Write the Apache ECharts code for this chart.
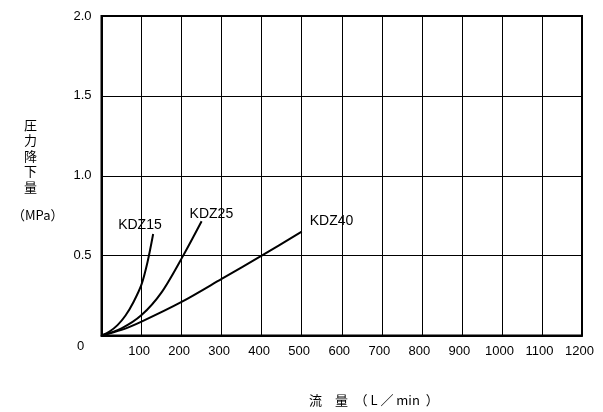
<!DOCTYPE html>
<html>
<head>
<meta charset="utf-8">
<script src="https://cdn.jsdelivr.net/npm/echarts@6/dist/echarts.min.js"></script>
<style>
html,body{margin:0;padding:0;background:#fff;}
#main{width:603px;height:412px;}
</style>
</head>
<body>
<div id="main"></div>
<script>
// flow (L/min) vs pressure drop (MPa)
var kdz15=[[0,0],[20,0.025],[40,0.065],[60,0.125],[80,0.21],[100,0.32],[115,0.46],[129,0.635]];
var kdz25=[[0,0],[50,0.045],[100,0.128],[150,0.27],[204,0.5],[250,0.715]];
var kdz40=[[0,0],[50,0.035],[100,0.087],[200,0.21],[300,0.354],[400,0.5],[500,0.65]];
var seriesNames=['KDZ15','KDZ25','KDZ40'];
var xTicks=[100,200,300,400,500,600,700,800,900,1000,1100,1200];
var yTicks=['0.5','1.0','1.5','2.0'];

var latin='"Liberation Sans", Arial, "Noto Sans CJK JP", sans-serif';
var cjk='"Noto Sans CJK JP", sans-serif';

function makeSeries(name,data,labelPos){
    return {
        name:name,
        type:'line',
        data:data,
        smooth:0.3,
        symbol:'none',
        lineStyle:{color:'#000',width:2},
        endLabel:{
            show:true,
            formatter:name,
            color:'#000',
            fontSize:14,
            fontFamily:latin,
            offset:labelPos
        },
        silent:true
    };
}

var myChart=echarts.init(document.getElementById('main'));
var option={
    animation:false,
    grid:{
        left:101.5,right:21,top:16,bottom:76.5,
        show:true,borderColor:'#000',borderWidth:2
    },
    xAxis:{
        type:'value',
        min:0,max:1200,interval:100,
        axisLine:{show:true,lineStyle:{color:'#000',width:2}},
        axisTick:{show:false},
        splitLine:{show:true,lineStyle:{color:'#000',width:1}},
        axisLabel:{
            color:'#000',fontSize:13,fontFamily:latin,margin:9,
            padding:[0,5,0,0],
            formatter:function(v){return xTicks.indexOf(v)>=0?String(v):'';}
        }
    },
    yAxis:{
        type:'value',
        min:0,max:2,interval:0.5,
        axisLine:{show:true,lineStyle:{color:'#000',width:2}},
        axisTick:{show:false},
        splitLine:{show:true,lineStyle:{color:'#000',width:1}},
        axisLabel:{
            color:'#000',fontSize:13,fontFamily:latin,margin:10,
            formatter:function(v){
                var s=v.toFixed(1);
                return yTicks.indexOf(s)>=0?s:'';
            }
        }
    },
    series:[
        makeSeries(seriesNames[0],kdz15,[-43,-9]),
        makeSeries(seriesNames[1],kdz25,[-20,-7]),
        makeSeries(seriesNames[2],kdz40,[0,-11])
    ],
    graphic:[
        {type:'text',left:77,top:340,style:{text:'0',fill:'#000',font:'13px '+latin}},
        {type:'text',left:24,top:117,style:{text:'圧\n力\n降\n下\n量',fill:'#000',font:'13px '+cjk,lineHeight:15.5}},
        {type:'text',left:12,top:209,style:{text:'（MPa）',fill:'#000',font:'13px '+cjk}},
        {type:'text',left:309,top:394,style:{text:'流　量　（ L ／ min  ）',fill:'#000',font:'13px '+cjk}}
    ]
};
myChart.setOption(option);
</script>
</body>
</html>
